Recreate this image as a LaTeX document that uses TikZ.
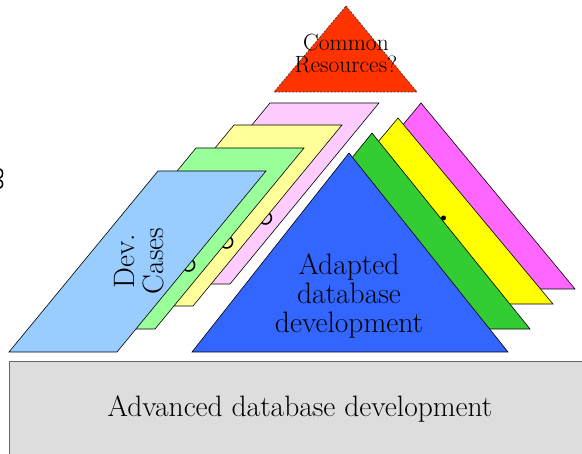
\documentclass[tikz,border=0pt]{standalone}
\definecolor{cRed}{HTML}{FF3300}
\definecolor{cPink}{HTML}{FFCCFF}
\definecolor{cLY}{HTML}{FFFF99}
\definecolor{cLG}{HTML}{99FF99}
\definecolor{cLB}{HTML}{99CCFF}
\definecolor{cBlue}{HTML}{3366FF}
\definecolor{cGreen}{HTML}{33CC33}
\definecolor{cYellow}{HTML}{FFFF00}
\definecolor{cMag}{HTML}{FF66FF}
\definecolor{cGray}{HTML}{DDDDDD}
\tikzset{
  shapebox/.style={draw=black, line width=0.6pt, line join=miter},
  bigtext/.style={font=\fontsize{29.5}{28.7}\selectfont, align=center, inner sep=0pt},
  devtext/.style={font=\fontsize{29.5}{29.5}\selectfont, align=center, inner sep=0pt},
  smalltext/.style={font=\fontsize{23.5}{22}\selectfont, align=center, inner sep=0pt},
  hook/.style={line width=1.6pt, draw=black}
}
\begin{document}
\begin{tikzpicture}[x=1pt,y=-1pt]
\useasboundingbox (0,0) rectangle (582,454);
\clip (0,0) rectangle (582,454);

% base box
\draw[fill=cGray, draw=black!60, line width=1pt] (9,362) rectangle (600,470);
\node[bigtext] (adv) at (300,409) {Advanced database development};

% right stacked triangles
\filldraw[shapebox, fill=cMag] (421,103) -- (575,289) -- (267,289) -- cycle;
\filldraw[shapebox, fill=cYellow] (398,118) -- (553,304) -- (243,304) -- cycle;
\coordinate (m1) at (443.5,218);
\fill (m1) circle (2.5);
\filldraw[shapebox, fill=cGreen] (372,133) -- (530,329) -- (214,329) -- cycle;
\filldraw[shapebox, fill=cBlue] (349,153) -- (508,352) -- (192,352) -- cycle;
\node[bigtext] (adapted) at (349,296) {Adapted\\database\\development};

% left stacked parallelograms
\filldraw[shapebox, fill=cPink] (270,103) -- (379,103) -- (230,284) -- (121,284) -- cycle;
\coordinate (a3) at (265.4,218);
\draw[hook] (a3) ++(129.5:6) arc (129.5:-50.5:6);
\filldraw[shapebox, fill=cLY] (234,125) -- (342,125) -- (193,306) -- (85,306) -- cycle;
\coordinate (a2) at (226.6,242);
\draw[hook] (a2) ++(129.5:6) arc (129.5:-50.5:6);
\filldraw[shapebox, fill=cLG] (196,148) -- (304,148) -- (155,329) -- (47,329) -- cycle;
\coordinate (a1) at (188.6,265);
\draw[hook] (a1) ++(129.5:6) arc (129.5:-50.5:6);
\filldraw[shapebox, fill=cLB] (158,171) -- (266,171) -- (117,352) -- (9,352) -- cycle;
\node[devtext, rotate=90] (dev) at (139,261) {Dev.\\Cases};

% top triangle
\filldraw[fill=cRed, draw=black!80, line width=0.6pt, dashed, dash pattern=on 2pt off 1.5pt] (346,6) -- (417,92) -- (274,92) -- cycle;
\node[smalltext] (common) at (346,53) {Common\\Resources?};

% glyph fragment at the left edge
\coordinate (f0) at (0,169);
\draw[line width=1.5pt] (f0) .. controls (3.5,170) and (3.5,177) .. (0,178)
      (0,180) .. controls (3.5,181) and (3.5,187) .. (0,188);
\end{tikzpicture}
\end{document}
